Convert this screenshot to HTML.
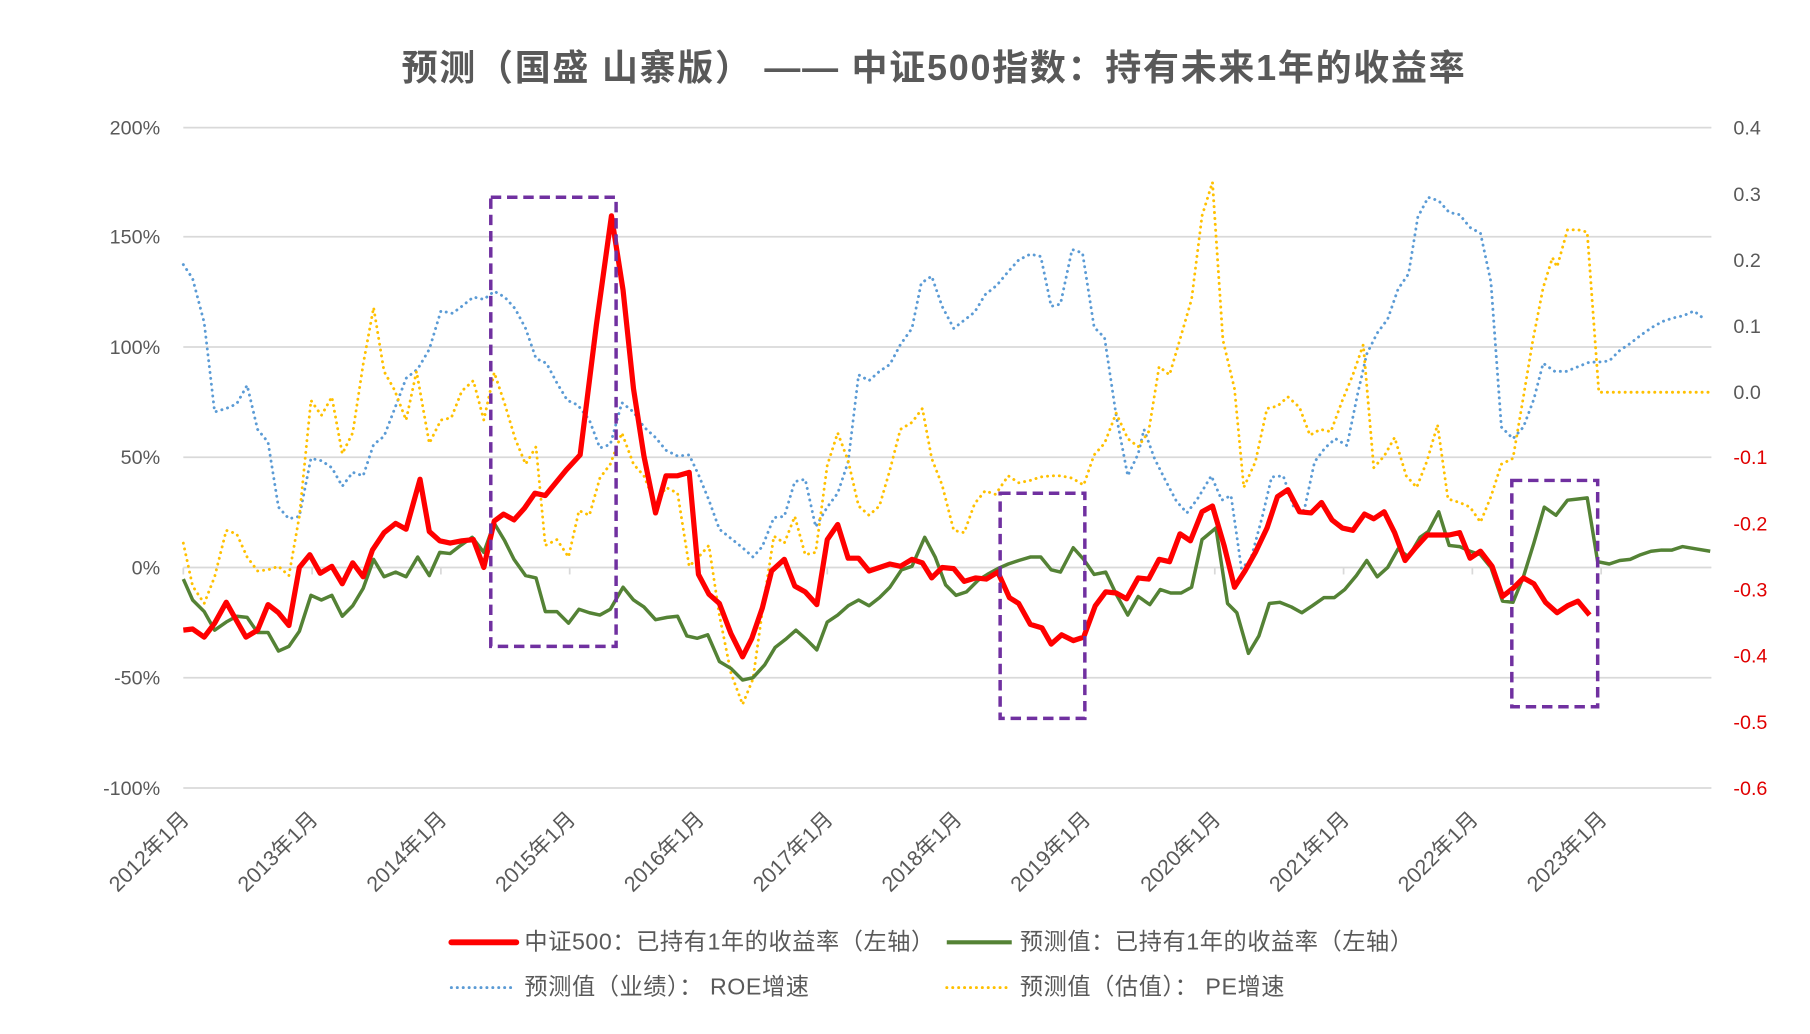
<!DOCTYPE html>
<html><head><meta charset="utf-8"><style>
html,body{margin:0;padding:0;background:#fff;}
svg{display:block;}
text{font-family:"Liberation Sans","Noto Sans CJK SC",sans-serif;}
</style></head><body>
<svg width="1810" height="1034" viewBox="0 0 1560 891" preserveAspectRatio="none" xmlns="http://www.w3.org/2000/svg">
<rect width="1560" height="891" fill="#fff"/>
<text x="805" y="69" text-anchor="middle" font-size="31" font-weight="bold" fill="#595959" letter-spacing="1.5">预测（国盛 山寨版） —— 中证500指数：持有未来1年的收益率</text>
<g stroke="#d9d9d9" stroke-width="1.5">
<line x1="158" x2="1475" y1="110" y2="110"/><line x1="158" x2="1475" y1="204" y2="204"/>
<line x1="158" x2="1475" y1="299" y2="299"/><line x1="158" x2="1475" y1="394" y2="394"/>
<line x1="158" x2="1475" y1="489" y2="489"/><line x1="158" x2="1475" y1="584" y2="584"/>
<line x1="158" x2="1475" y1="679" y2="679"/>
<line x1="158" x2="158" y1="489" y2="495"/><line x1="269" x2="269" y1="489" y2="495"/><line x1="380" x2="380" y1="489" y2="495"/><line x1="491" x2="491" y1="489" y2="495"/><line x1="602" x2="602" y1="489" y2="495"/><line x1="713" x2="713" y1="489" y2="495"/><line x1="824" x2="824" y1="489" y2="495"/><line x1="935" x2="935" y1="489" y2="495"/><line x1="1047" x2="1047" y1="489" y2="495"/><line x1="1158" x2="1158" y1="489" y2="495"/><line x1="1269" x2="1269" y1="489" y2="495"/><line x1="1380" x2="1380" y1="489" y2="495"/>
</g>
<g font-size="17" fill="#595959" text-anchor="end">
<text x="138" y="116">200%</text><text x="138" y="210">150%</text><text x="138" y="305">100%</text><text x="138" y="400">50%</text><text x="138" y="495">0%</text><text x="138" y="590">-50%</text><text x="138" y="685">-100%</text>
</g>
<g font-size="17">
<text x="1494" y="116" fill="#595959">0.4</text><text x="1494" y="173" fill="#595959">0.3</text><text x="1494" y="230" fill="#595959">0.2</text><text x="1494" y="287" fill="#595959">0.1</text><text x="1494" y="344" fill="#595959">0.0</text>
<text x="1494" y="400" fill="#e00000">-0.1</text><text x="1494" y="457" fill="#e00000">-0.2</text><text x="1494" y="514" fill="#e00000">-0.3</text><text x="1494" y="571" fill="#e00000">-0.4</text><text x="1494" y="628" fill="#e00000">-0.5</text><text x="1494" y="685" fill="#e00000">-0.6</text>
</g>
<g font-size="18.5" fill="#595959" text-anchor="end">
<text transform="translate(164,707) rotate(-45)">2012年1月</text>
<text transform="translate(275,707) rotate(-45)">2013年1月</text>
<text transform="translate(386,707) rotate(-45)">2014年1月</text>
<text transform="translate(497,707) rotate(-45)">2015年1月</text>
<text transform="translate(608,707) rotate(-45)">2016年1月</text>
<text transform="translate(719,707) rotate(-45)">2017年1月</text>
<text transform="translate(830,707) rotate(-45)">2018年1月</text>
<text transform="translate(941,707) rotate(-45)">2019年1月</text>
<text transform="translate(1053,707) rotate(-45)">2020年1月</text>
<text transform="translate(1164,707) rotate(-45)">2021年1月</text>
<text transform="translate(1275,707) rotate(-45)">2022年1月</text>
<text transform="translate(1386,707) rotate(-45)">2023年1月</text>
</g>
<polyline fill="none" stroke="#5b9bd5" stroke-width="2.5" stroke-dasharray="0.1 5" stroke-linecap="round" points="158,228 166,240 176,278 185,355 195,352 204,348 213,332 222,370 231,381 240,437 249,447 258,445 268,395 277,397 286,403 295,419 304,407 313,410 322,383 331,376 341,350 350,326 360,318 370,301 380,268 390,270 398,264 408,256 417,258 426,251 435,256 444,266 453,283 462,309 471,313 480,330 489,345 498,349 508,362 517,386 526,383 536,347 546,355 555,368 565,377 574,388 584,393 594,392 602,409 611,431 620,456 630,464 640,472 649,480 657,471 667,446 676,445 685,415 694,413 703,454 713,437 722,425 731,398 740,323 749,328 758,320 767,314 776,297 786,283 794,244 803,238 812,264 822,283 831,276 840,269 849,254 859,246 869,234 878,224 888,219 897,221 906,264 914,262 924,215 933,218 943,282 952,291 962,358 972,410 981,391 986,370 995,395 1004,413 1014,432 1023,442 1032,430 1044,410 1053,431 1061,427 1070,490 1078,482 1088,445 1096,411 1106,410 1115,437 1124,440 1133,398 1142,386 1151,378 1161,384 1170,340 1178,305 1187,287 1196,275 1205,249 1214,236 1222,187 1231,170 1240,173 1249,183 1258,185 1267,196 1276,201 1285,243 1294,368 1304,378 1313,368 1322,344 1330,313 1340,320 1350,320 1360,316 1370,312 1378,312 1387,311 1396,302 1405,296 1414,289 1424,282 1433,277 1442,274 1451,272 1460,268 1469,275"/>
<polyline fill="none" stroke="#ffc000" stroke-width="2.5" stroke-dasharray="0.1 5" stroke-linecap="round" points="158,468 166,505 176,520 185,497 195,457 204,460 213,480 222,492 231,491 240,488 249,496 258,445 268,345 277,358 286,342 295,391 304,373 313,314 322,265 331,320 340,336 350,362 359,320 370,382 380,362 389,360 398,337 408,328 417,362 426,321 435,348 444,378 453,400 462,385 470,470 480,465 490,480 499,440 508,444 517,412 526,400 536,373 546,400 555,410 565,435 574,420 584,425 594,488 603,479 611,470 620,530 630,580 640,607 649,585 657,527 667,462 676,468 685,445 694,478 703,476 713,401 722,373 731,397 740,436 749,444 758,436 767,405 776,370 786,364 795,352 803,395 812,418 822,457 831,459 840,434 849,423 858,426 869,410 878,416 888,414 897,411 906,410 914,410 924,412 934,418 943,392 952,382 962,356 972,378 981,385 990,372 999,316 1008,323 1018,289 1027,258 1036,186 1045,157 1054,293 1064,335 1072,420 1082,398 1092,352 1101,350 1110,342 1120,351 1129,375 1138,370 1147,372 1157,345 1166,323 1175,297 1184,403 1193,393 1202,377 1212,410 1221,420 1230,397 1239,366 1248,430 1258,433 1267,437 1276,450 1285,428 1294,400 1304,395 1313,342 1321,294 1330,248 1338,222 1342,230 1351,198 1360,198 1368,200 1378,338 1475,338"/>
<polyline fill="none" stroke="#548235" stroke-width="3" stroke-linejoin="round" points="158,499 166,517 176,527 185,543 195,536 204,531 213,532 222,545 231,545 240,561 249,557 258,544 268,513 277,517 286,513 295,531 304,522 313,507 322,482 331,497 341,493 350,497 360,480 370,496 379,476 388,477 397,470 407,463 417,476 426,451 435,466 443,482 453,496 462,498 470,527 480,527 490,537 499,525 508,528 517,530 526,525 537,506 546,517 555,523 565,534 575,532 584,531 592,548 601,550 610,547 620,570 630,576 640,586 649,584 659,573 668,558 677,551 686,543 695,551 704,560 713,536 722,530 731,522 740,517 749,522 758,515 767,506 777,491 786,488 797,463 806,480 815,504 824,513 833,510 843,500 851,495 860,490 869,486 878,483 888,480 897,480 906,491 914,493 925,472 934,482 943,495 953,493 962,512 972,530 981,514 991,521 1000,508 1009,511 1018,511 1027,506 1036,465 1048,455 1058,520 1066,528 1076,563 1085,548 1094,520 1103,519 1113,523 1122,528 1131,522 1141,515 1150,515 1159,508 1169,496 1178,483 1187,497 1196,489 1205,473 1214,480 1224,463 1231,458 1240,441 1249,470 1258,471 1267,475 1276,478 1285,489 1295,518 1304,519 1313,497 1322,468 1331,437 1341,444 1351,431 1360,430 1368,429 1377,484 1387,486 1396,483 1405,482 1414,478 1423,475 1432,474 1441,474 1450,471 1462,473 1474,475"/>
<polyline fill="none" stroke="#ff0000" stroke-width="4.5" stroke-linejoin="round" points="158,543 166,542 176,549 185,537 195,519 204,535 212,549 222,543 231,521 240,528 249,539 258,489 267,478 276,494 286,488 295,503 304,485 313,497 321,474 331,459 341,451 350,456 362,413 370,458 379,466 388,468 398,466 408,465 417,489 426,449 434,443 443,448 452,438 461,425 470,427 479,416 488,405 500,392 514,280 527,186 537,250 546,335 555,393 565,442 574,410 584,410 594,407 602,495 611,512 620,520 630,546 640,566 648,550 657,524 665,492 676,482 685,505 694,510 704,521 713,465 722,452 731,481 740,481 749,492 758,489 767,486 776,488 786,482 795,485 803,498 812,489 822,490 831,501 841,498 850,499 860,493 870,515 878,520 888,538 898,541 906,555 915,547 925,552 934,549 944,522 953,510 962,511 971,516 981,498 990,499 999,482 1008,484 1017,460 1026,466 1036,441 1045,436 1055,470 1064,506 1073,492 1082,476 1092,455 1101,428 1110,422 1120,441 1130,442 1139,433 1148,448 1157,455 1166,457 1176,443 1184,447 1193,441 1202,459 1211,483 1220,472 1230,461 1240,461 1249,461 1258,459 1267,481 1276,475 1286,488 1295,514 1304,507 1313,498 1322,503 1332,519 1342,528 1351,522 1360,518 1370,530"/>
<g fill="none" stroke="#7030a0" stroke-width="3" stroke-dasharray="9 5">
<rect x="423" y="170" width="108" height="387"/>
<rect x="862" y="425" width="73" height="194"/>
<rect x="1303" y="414" width="74" height="195"/>
</g>
<g font-size="20" fill="#595959">
<line x1="389" x2="445" y1="812" y2="812" stroke="#ff0000" stroke-width="5" stroke-linecap="round"/>
<text x="452" y="818" letter-spacing="0.5">中证500：已持有1年的收益率（左轴）</text>
<line x1="816" x2="872" y1="812" y2="812" stroke="#548235" stroke-width="3.5"/>
<text x="879" y="818" letter-spacing="0.5">预测值：已持有1年的收益率（左轴）</text>
<line x1="389" x2="445" y1="851" y2="851" stroke="#5b9bd5" stroke-width="2.5" stroke-dasharray="0.1 5" stroke-linecap="round"/>
<text x="452" y="857" letter-spacing="0.5">预测值（业绩）： ROE增速</text>
<line x1="816" x2="872" y1="851" y2="851" stroke="#ffc000" stroke-width="2.5" stroke-dasharray="0.1 5" stroke-linecap="round"/>
<text x="879" y="857" letter-spacing="0.5">预测值（估值）： PE增速</text>
</g>
</svg>
</body></html>
